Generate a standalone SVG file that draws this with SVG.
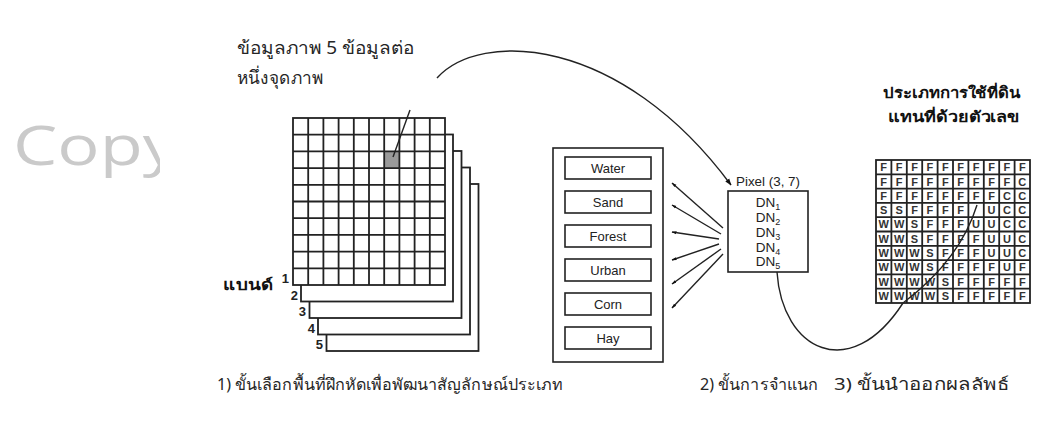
<svg xmlns="http://www.w3.org/2000/svg" width="1042" height="423" viewBox="0 0 1042 423">
<defs>
<style>
.th{font-family:"Noto Sans","DejaVu Sans",sans-serif;fill:#262626}
.thb{font-family:"Noto Sans","DejaVu Sans",sans-serif;font-weight:bold;fill:#111}
.ln{fill:none;stroke:#222;stroke-width:1.8}
.lay{fill:#fff;stroke:#222;stroke-width:1.8}
.cls{fill:#fff;stroke:#222;stroke-width:1.6}
.ct{font-family:"Liberation Sans",Arial,sans-serif;font-size:13px;fill:#222;text-anchor:middle}
.num{font-family:"Liberation Sans",Arial,sans-serif;font-size:13px;font-weight:bold;fill:#222;text-anchor:end}
.dn{font-family:"Liberation Sans",Arial,sans-serif;font-size:13.5px;fill:#222;text-anchor:middle}
.lu{font-family:"Liberation Sans",Arial,sans-serif;font-size:11px;font-weight:bold;fill:#333;text-anchor:middle}
.arr{fill:none;stroke:#222;stroke-width:1.4}
</style>
<marker id="ah" viewBox="0 0 10 10" refX="9" refY="5" markerWidth="7" markerHeight="7" orient="auto" markerUnits="userSpaceOnUse">
<path d="M0,1.5 L10,5 L0,8.5 z" fill="#111"/>
</marker>
<marker id="ahs" viewBox="0 0 10 10" refX="9" refY="5" markerWidth="5" markerHeight="5" orient="auto" markerUnits="userSpaceOnUse">
<path d="M0,2 L10,5 L0,8 z" fill="#111"/>
</marker>
<clipPath id="wmc"><rect x="0" y="0" width="160" height="423"/></clipPath>
</defs>
<rect width="1042" height="423" fill="#fff"/>
<g id="watermark" clip-path="url(#wmc)">
<text x="13" y="165" font-family="Open Sans, sans-serif" font-size="55" fill="#cacaca" textLength="165" lengthAdjust="spacingAndGlyphs">Copy</text>
</g>

<g id="caption-data">
<text class="th" x="237" y="54" font-size="18" textLength="178" lengthAdjust="spacingAndGlyphs">ข้อมูลภาพ 5 ข้อมูลต่อ</text>
<text class="th" x="237" y="84" font-size="18" textLength="86" lengthAdjust="spacingAndGlyphs">หนึ่งจุดภาพ</text>
</g>

<g id="bands">
<rect class="lay" x="326.5" y="184" width="152" height="167"/>
<rect class="lay" x="318" y="167.5" width="152" height="167"/>
<rect class="lay" x="309.5" y="151" width="152" height="167"/>
<rect class="lay" x="301" y="134.5" width="152" height="167"/>
<rect class="lay" x="293" y="118" width="152" height="167"/>
<rect x="384.2" y="151.4" width="15.2" height="16.7" fill="#9a9a9a"/>
<path class="ln" d="M308.2,118V285M323.4,118V285M338.6,118V285M353.8,118V285M369,118V285M384.2,118V285M399.4,118V285M414.6,118V285M429.8,118V285M293,134.7H445M293,151.4H445M293,168.1H445M293,184.8H445M293,201.5H445M293,218.2H445M293,234.9H445M293,251.6H445M293,268.3H445"/>
<text class="num" x="289" y="283">1</text>
<text class="num" x="298" y="300">2</text>
<text class="num" x="306" y="316">3</text>
<text class="num" x="315" y="333">4</text>
<text class="num" x="323" y="349">5</text>
<text class="thb" x="223" y="290" font-size="15" textLength="50" lengthAdjust="spacingAndGlyphs">แบนด์</text>
</g>

<g id="classes">
<rect class="cls" x="553" y="148" width="110" height="214"/>
<rect class="cls" x="565" y="157" width="86" height="22"/>
<rect class="cls" x="565" y="191" width="86" height="22"/>
<rect class="cls" x="565" y="225" width="86" height="22"/>
<rect class="cls" x="565" y="259" width="86" height="22"/>
<rect class="cls" x="565" y="293" width="86" height="22"/>
<rect class="cls" x="565" y="327" width="86" height="22"/>
<text class="ct" x="608" y="173">Water</text>
<text class="ct" x="608" y="207">Sand</text>
<text class="ct" x="608" y="241">Forest</text>
<text class="ct" x="608" y="275">Urban</text>
<text class="ct" x="608" y="309">Corn</text>
<text class="ct" x="608" y="343">Hay</text>
</g>

<g id="pixel">
<text x="736" y="186" font-family="Liberation Sans, Arial, sans-serif" font-size="12" fill="#222" textLength="64" lengthAdjust="spacingAndGlyphs">Pixel (3, 7)</text>
<rect class="cls" x="728" y="191" width="80" height="81"/>
<text class="dn" x="768" y="207">DN<tspan font-size="9" dy="3">1</tspan></text>
<text class="dn" x="768" y="222">DN<tspan font-size="9" dy="3">2</tspan></text>
<text class="dn" x="768" y="237">DN<tspan font-size="9" dy="3">3</tspan></text>
<text class="dn" x="768" y="252">DN<tspan font-size="9" dy="3">4</tspan></text>
<text class="dn" x="768" y="266">DN<tspan font-size="9" dy="3">5</tspan></text>
</g>

<g id="landuse">
<text class="thb" x="883" y="98" font-size="15" textLength="137" lengthAdjust="spacingAndGlyphs">ประเภทการใช้ที่ดิน</text>
<text class="thb" x="888" y="122" font-size="15" textLength="131" lengthAdjust="spacingAndGlyphs">แทนที่ด้วยตัวเลข</text>
<rect x="876" y="160" width="154" height="143" fill="#fff" stroke="#222" stroke-width="1.8"/>
<path class="ln" d="M891.4,160V303M906.8,160V303M922.2,160V303M937.6,160V303M953,160V303M968.4,160V303M983.8,160V303M999.2,160V303M1014.6,160V303M876,174.3H1030M876,188.6H1030M876,202.9H1030M876,217.2H1030M876,231.5H1030M876,245.8H1030M876,260.1H1030M876,274.4H1030M876,288.7H1030"/>
<text class="lu" x="883.7 899.1 914.5 929.9 945.3 960.7 976.1 991.5 1006.9 1022.3" y="171.2">FFFFFFFFFF</text>
<text class="lu" x="883.7 899.1 914.5 929.9 945.3 960.7 976.1 991.5 1006.9 1022.3" y="185.5">FFFFFFFFFC</text>
<text class="lu" x="883.7 899.1 914.5 929.9 945.3 960.7 976.1 991.5 1006.9 1022.3" y="199.8">FFFFFFFFCC</text>
<text class="lu" x="883.7 899.1 914.5 929.9 945.3 960.7 991.5 1006.9 1022.3" y="214.1">SSFFFFUCC</text>
<text class="lu" x="883.7 899.1 914.5 929.9 945.3 960.7 976.1 991.5 1006.9 1022.3" y="228.4">WWSFFFUUCC</text>
<text class="lu" x="883.7 899.1 914.5 929.9 945.3 960.7 976.1 991.5 1006.9 1022.3" y="242.7">WWSFFFFUUC</text>
<text class="lu" x="883.7 899.1 914.5 929.9 945.3 960.7 976.1 991.5 1006.9 1022.3" y="257">WWWSFFFUUC</text>
<text class="lu" x="883.7 899.1 914.5 929.9 945.3 960.7 976.1 991.5 1006.9 1022.3" y="271.3">WWWSFFFFUF</text>
<text class="lu" x="883.7 899.1 914.5 929.9 945.3 960.7 976.1 991.5 1006.9 1022.3" y="285.6">WWWWSFFFFF</text>
<text class="lu" x="883.7 899.1 914.5 929.9 945.3 960.7 976.1 991.5 1006.9 1022.3" y="299.9">WWWWSFFFFF</text>
</g>

<g id="connectors">
<path class="arr" d="M410,110 L393,157"/>
<path class="arr" d="M437,78 C480,30 620,35 731,185" marker-end="url(#ah)"/>
<path class="arr" d="M723,228 L672,183" marker-end="url(#ahs)"/>
<path class="arr" d="M721,234 L672,205" marker-end="url(#ahs)"/>
<path class="arr" d="M719,239 L672,232" marker-end="url(#ahs)"/>
<path class="arr" d="M719,244 L672,260" marker-end="url(#ahs)"/>
<path class="arr" d="M721,249 L672,284" marker-end="url(#ahs)"/>
<path class="arr" d="M723,254 L672,308" marker-end="url(#ahs)"/>
<path class="arr" d="M777,272 C782,350 850,385 903,303 Q960,260 977,205"/>
</g>

<g id="steps">
<text class="th" x="217" y="390" font-size="16" textLength="346" lengthAdjust="spacingAndGlyphs">1) ขั้นเลือกพื้นที่ฝึกหัดเพื่อพัฒนาสัญลักษณ์ประเภท</text>
<text class="th" x="700" y="390" font-size="16" textLength="118" lengthAdjust="spacingAndGlyphs">2) ขั้นการจำแนก</text>
<text class="th" x="834" y="390" font-size="16.5" textLength="175" lengthAdjust="spacingAndGlyphs">3) ขั้นนำออกผลลัพธ์</text>
</g>
</svg>
